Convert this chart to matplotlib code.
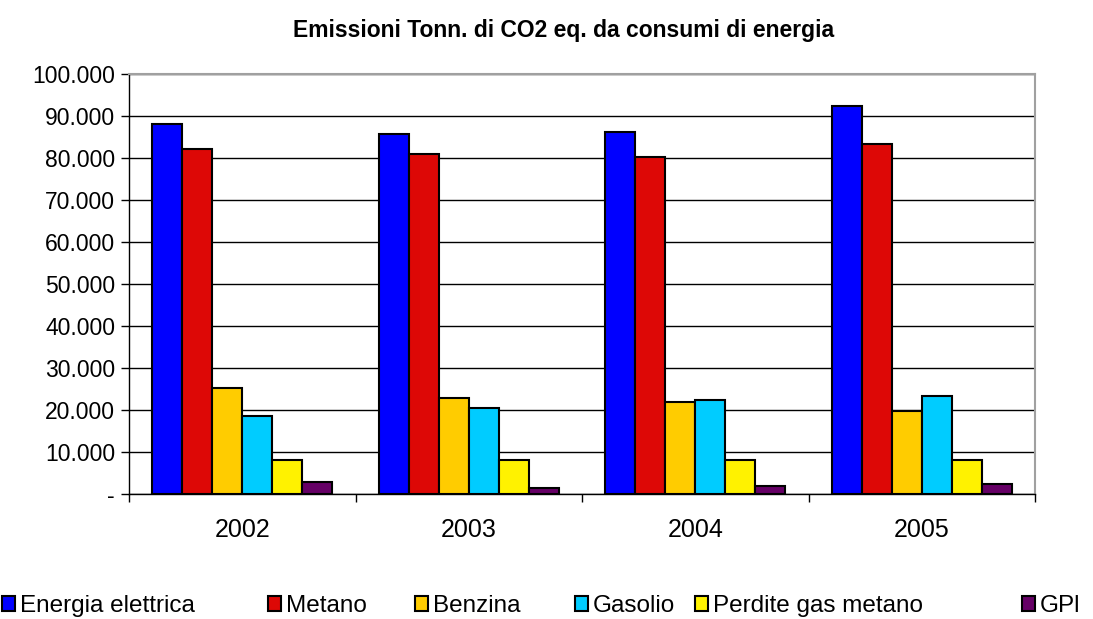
import matplotlib
matplotlib.use("Agg")
import matplotlib.pyplot as plt
import numpy as np
from matplotlib.ticker import FuncFormatter, FixedLocator

plt.rcParams['font.family'] = ['Liberation Sans', 'DejaVu Sans']

years = ["2002", "2003", "2004", "2005"]
series_names = ["Energia elettrica", "Metano", "Benzina", "Gasolio", "Perdite gas metano", "GPl"]
energia_elettrica = [88000, 85600, 86200, 92300]
metano = [82200, 80900, 80300, 83300]
benzina = [25200, 22800, 21900, 19700]
gasolio = [18600, 20400, 22400, 23300]
perdite_gas_metano = [8200, 8100, 8200, 8100]
gpl = [2900, 1400, 1800, 2400]
colors = ["#0000FF", "#DD0806", "#FFCC00", "#00CCFF", "#FFF200", "#660066"]
yticks = [0, 10000, 20000, 30000, 40000, 50000, 60000, 70000, 80000, 90000, 100000]

series = [energia_elettrica, metano, benzina, gasolio, perdite_gas_metano, gpl]

fig = plt.figure(figsize=(10.93, 6.19), dpi=100)
ax = fig.add_axes([129/1093, 1-494/619, (1035-129)/1093, (494-74)/619])

x = np.arange(len(years))
n = len(series)
bw = 0.1325
handles = []
for i, (name, vals, c) in enumerate(zip(series_names, series, colors)):
    offs = (i - (n-1)/2) * bw
    b = ax.bar(x + offs, vals, bw, color=c, edgecolor='black', linewidth=1.5, label=name, zorder=3)
    handles.append(b)

ax.set_xlim(-0.5, 3.5)
ax.set_ylim(0, 100000)
ax.set_yticks(yticks)
def fmt(v, p):
    if v == 0:
        return "-"
    return f"{int(v):,}".replace(",", ".")
ax.yaxis.set_major_formatter(FuncFormatter(fmt))
ax.yaxis.grid(True, color='black', linewidth=1.0, zorder=0)
ax.set_axisbelow(True)

ax.set_xticks(x)
ax.set_xticklabels(years)
ax.xaxis.set_minor_locator(FixedLocator([-0.5, 0.5, 1.5, 2.5, 3.5]))
ax.tick_params(axis='x', which='major', length=0, labelsize=18, pad=17)
ax.tick_params(axis='x', which='minor', length=6, width=1, direction='out', color='black')
ax.tick_params(axis='y', length=6, width=1, direction='out', labelsize=16.5, pad=4, color='black')

for s in ['top', 'right']:
    ax.spines[s].set_color('#A0A0A0')
    ax.spines[s].set_linewidth(1.5)
for s in ['left', 'bottom']:
    ax.spines[s].set_color('black')
    ax.spines[s].set_linewidth(1.0)

fig.text(0.516, 1-30/619, "Emissioni Tonn. di CO2 eq. da consumi di energia",
         ha='center', va='center', fontsize=16.5, fontweight='bold')

leg_x = [2, 268, 415, 575, 695, 1022]
for h, name, lx in zip(handles, series_names, leg_x):
    fig.legend(handles=[h], labels=[name], loc='center left',
               bbox_to_anchor=(lx/1093, 1-606/619), frameon=False,
               fontsize=17.5, handlelength=0.55, handleheight=0.55, handletextpad=0.2,
               borderaxespad=0, borderpad=0)

fig.savefig("out.png", dpi=100)
